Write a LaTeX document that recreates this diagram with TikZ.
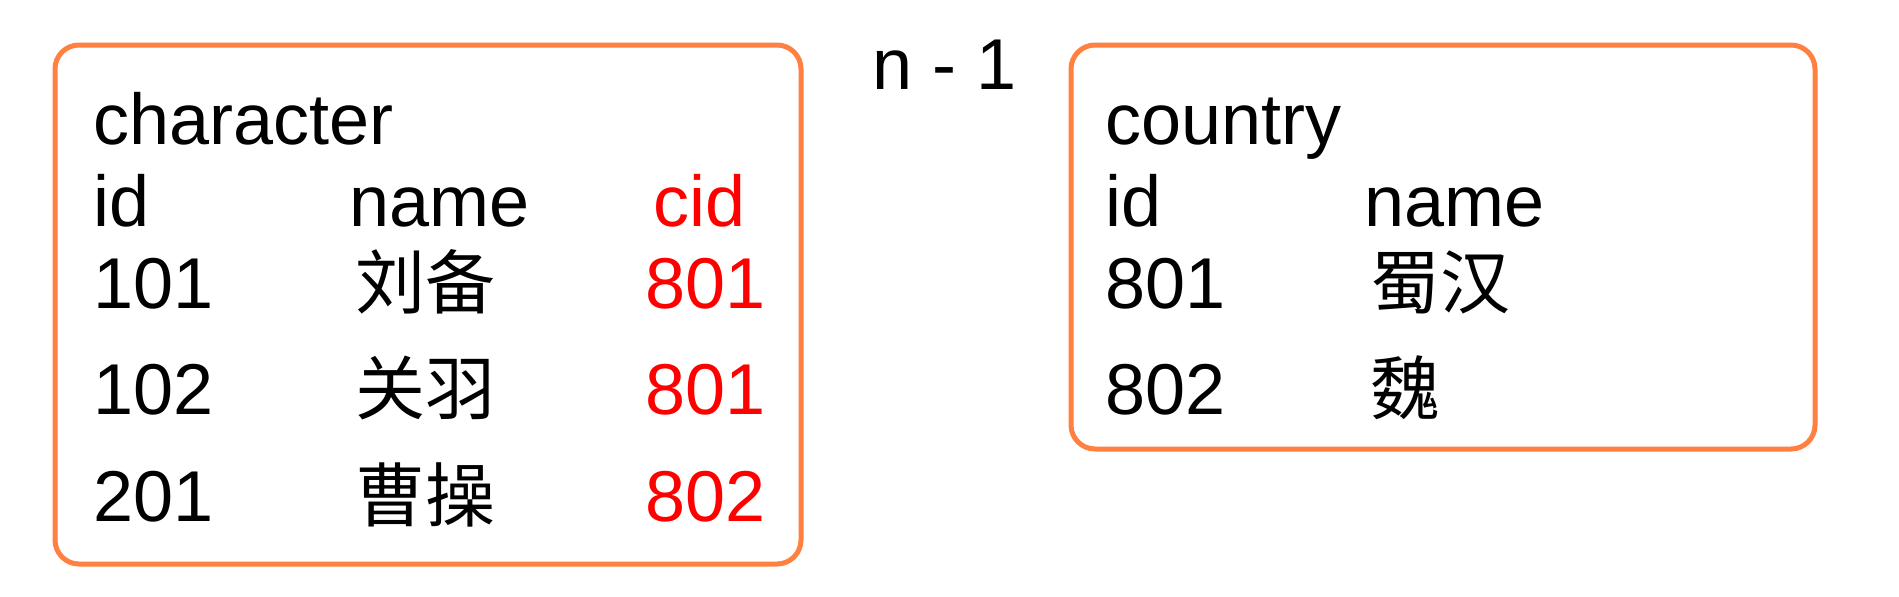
\documentclass[tikz,border=0pt]{standalone}
\usepackage{fontspec}
\setmainfont{Liberation Sans}
\newfontfamily\cjk{Noto Sans CJK SC}
\definecolor{boxorange}{RGB}{255,128,64}
\tikzset{
	tablebox/.style={draw=boxorange, line width=2.5pt, rounded corners=12pt},
	cell/.style={anchor=base west, inner sep=0pt, font=\fontsize{36}{36}\selectfont},
	fkey/.style={cell, text=red},
	hanzi/.style={cell, font=\fontsize{35}{35}\selectfont\cjk},
}
\begin{document}
\begin{tikzpicture}[x=0.5pt,y=-0.5pt]
		\useasboundingbox (0,0) rectangle (1899,596);
		% character table
		\draw[tablebox] (55,45) rectangle (801,564);
		\node[cell] (chartitle) at (93,144) {character};
		\node[cell] (charid) at (93,226) {id};
		\node[cell] (charname) at (349,226) {name};
		\node[fkey] (charcid) at (653,226) {cid};
		\node[cell] (id101) at (93,308) {101};
		\node[hanzi] (liubei) at (355,308) {刘备};
		\node[fkey] (cid101) at (645,308) {801};
		\node[cell] (id102) at (93,414) {102};
		\node[hanzi] (guanyu) at (355,414) {关羽};
		\node[fkey] (cid102) at (645,414) {801};
		\node[cell] (id201) at (93,521) {201};
		\node[hanzi] (caocao) at (355,521) {曹操};
		\node[fkey] (cid201) at (645,521) {802};
		% relation
		\node[cell] (ratio) at (872,89) {n - 1};
		% country table
		\draw[tablebox] (1071,45) rectangle (1815,449);
		\node[cell] (countrytitle) at (1105,144) {country};
		\node[cell] (countryid) at (1105,226) {id};
		\node[cell] (countryname) at (1364,226) {name};
		\node[cell] (id801) at (1105,308) {801};
		\node[hanzi] (shuhan) at (1370,308) {蜀汉};
		\node[cell] (id802) at (1105,414) {802};
		\node[hanzi] (wei) at (1370,414) {魏};
	\end{tikzpicture}
\end{document}
